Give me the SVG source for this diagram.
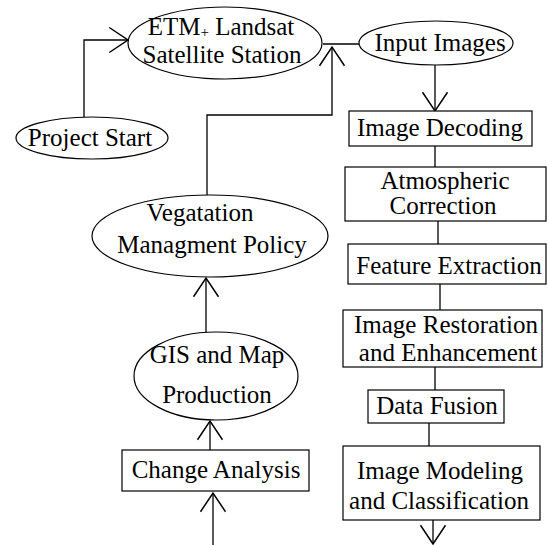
<svg xmlns="http://www.w3.org/2000/svg" width="547" height="545" viewBox="0 0 547 545">
<style>
.n{fill:#fff;stroke:#000;stroke-width:1.2}
.t{font-family:"Liberation Serif","Times New Roman",serif;font-size:25px;fill:#000;text-anchor:middle}
.c{fill:none;stroke:#000;stroke-width:1.3}
</style>
<defs>
<marker id="ah" markerUnits="userSpaceOnUse" markerWidth="30" markerHeight="30" refX="0" refY="0" viewBox="-16 -12 20 24" orient="auto" overflow="visible">
<path d="M-15,-10 L0,0 L-15,10" fill="none" stroke="#000" stroke-width="1.2"/>
</marker>
</defs>
<rect width="547" height="545" fill="#fff"/>
<g id="connectors">
<polyline class="c" points="84,117 84,40 128,40" marker-end="url(#ah)"/>
<line class="c" x1="323" y1="44" x2="359" y2="44"/>
<polyline class="c" points="207,195 207,115 332,115 332,47" marker-end="url(#ah)"/>
<line class="c" x1="435" y1="65" x2="435" y2="111" marker-end="url(#ah)"/>
<line class="c" x1="435" y1="146" x2="435" y2="167"/>
<line class="c" x1="438" y1="221" x2="438" y2="244"/>
<line class="c" x1="440" y1="284" x2="440" y2="310"/>
<line class="c" x1="435" y1="367" x2="435" y2="390"/>
<line class="c" x1="429" y1="423" x2="429" y2="446"/>
<line class="c" x1="433" y1="520" x2="433" y2="544" marker-end="url(#ah)"/>
<line class="c" x1="206" y1="333" x2="206" y2="278" marker-end="url(#ah)"/>
<line class="c" x1="210" y1="450" x2="210" y2="421" marker-end="url(#ah)"/>
<line class="c" x1="213" y1="545" x2="213" y2="493" marker-end="url(#ah)"/>
</g>
<g id="etm">
<ellipse class="n" cx="225" cy="43" rx="97" ry="36"/>
<text class="t" x="221" y="35">ETM<tspan font-size="15" dy="2">+</tspan><tspan dy="-2"> Landsat</tspan></text>
<text class="t" x="222" y="63">Satellite Station</text>
</g>
<g id="input-images">
<ellipse class="n" cx="436" cy="43" rx="77" ry="22"/>
<text class="t" x="440" y="51">Input Images</text>
</g>
<g id="project-start">
<ellipse class="n" cx="92" cy="138" rx="76" ry="21"/>
<text class="t" x="90" y="146">Project Start</text>
</g>
<g id="image-decoding">
<rect class="n" x="349" y="111" width="183" height="35"/>
<text class="t" x="440" y="136">Image Decoding</text>
</g>
<g id="atmospheric">
<rect class="n" x="345" y="167" width="201" height="54"/>
<text class="t" x="445" y="189">Atmospheric</text>
<text class="t" x="443" y="214">Correction</text>
</g>
<g id="feature-extraction">
<rect class="n" x="348" y="244" width="198" height="40"/>
<text class="t" x="449" y="274">Feature Extraction</text>
</g>
<g id="image-restoration">
<rect class="n" x="343" y="310" width="199" height="57"/>
<text class="t" x="446" y="333">Image Restoration</text>
<text class="t" x="448" y="361">and Enhancement</text>
</g>
<g id="data-fusion">
<rect class="n" x="368" y="390" width="136" height="33"/>
<text class="t" x="437" y="414">Data Fusion</text>
</g>
<g id="image-modeling">
<rect class="n" x="343" y="446" width="197" height="74"/>
<text class="t" x="440" y="479">Image Modeling</text>
<text class="t" x="439" y="509">and Classification</text>
</g>
<g id="vegetation-policy">
<ellipse class="n" cx="210" cy="236" rx="118" ry="41"/>
<text class="t" x="200" y="221">Vegatation</text>
<text class="t" x="212" y="253">Managment Policy</text>
</g>
<g id="gis-map">
<ellipse class="n" cx="216" cy="376" rx="82" ry="44"/>
<text class="t" x="217" y="363">GIS and Map</text>
<text class="t" x="217" y="403">Production</text>
</g>
<g id="change-analysis">
<rect class="n" x="122" y="450" width="187" height="41"/>
<text class="t" x="216" y="478">Change Analysis</text>
</g>
</svg>
